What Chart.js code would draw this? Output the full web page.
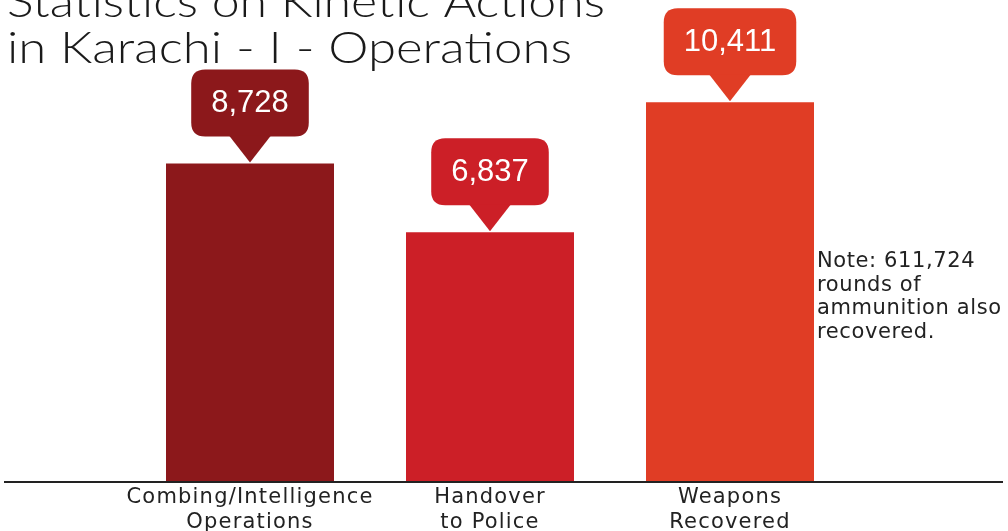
<!DOCTYPE html>
<html>
<head>
<meta charset="utf-8">
<script src="https://cdn.jsdelivr.net/npm/chart.js@4.4.0/dist/chart.umd.min.js"></script>
<style>
  html, body { margin: 0; padding: 0; background: #fff; }
  #wrap { width: 1008px; height: 531px; position: relative; }
</style>
</head>
<body>
<div id="wrap"><canvas id="chart"></canvas></div>
<script>
// Data
const categories = [
  ['Combing/Intelligence', 'Operations'],
  ['Handover', 'to Police'],
  ['Weapons', 'Recovered']
];
const values = [8728, 6837, 10411];
const barColors = ['#8c181b', '#cc1f27', '#e03d25'];
const titleLines = ['Statistics on Kinetic Actions', 'in Karachi - I - Operations'];
const noteLines = ['Note: 611,724', 'rounds of', 'ammunition also', 'recovered.'];

const titleFont = '300 43px Lato';
const noteFont = '21px "DejaVu Sans"';
const valueFont = '31px "Liberation Sans"';

// draw a line of text stretched/squeezed to a given width
function fitText(ctx, text, x, y, width) {
  const w = ctx.measureText(text).width;
  ctx.save();
  ctx.translate(x, y);
  ctx.scale(width / w, 1);
  ctx.fillText(text, 0, 0);
  ctx.restore();
}

// a little tracking on the axis labels
const spacingPlugin = {
  id: 'spacing',
  beforeDraw(chart) {
    chart.ctx.letterSpacing = '1.2px';
  }
};

// Title + note text, drawn straight on the canvas
const textPlugin = {
  id: 'extraText',
  afterDraw(chart) {
    const ctx = chart.ctx;
    ctx.save();
    ctx.letterSpacing = '0px';
    ctx.fillStyle = '#1a1a1a';
    ctx.textAlign = 'left';
    ctx.textBaseline = 'alphabetic';
    ctx.font = titleFont;
    fitText(ctx, titleLines[0], 7, 17, 598);
    fitText(ctx, titleLines[1], 7, 63, 565);

    ctx.font = noteFont;
    ctx.letterSpacing = '0.6px';
    ctx.fillStyle = '#222';
    noteLines.forEach((line, i) => {
      ctx.fillText(line, 817, 267 + i * 23.5);
    });
    ctx.restore();
  }
};

// Long baseline under the bars
const baselinePlugin = {
  id: 'baseline',
  afterDatasetsDraw(chart) {
    const ctx = chart.ctx;
    const y = chart.chartArea.bottom;
    ctx.save();
    ctx.strokeStyle = '#222';
    ctx.lineWidth = 2;
    ctx.beginPath();
    ctx.moveTo(4, y + 1);
    ctx.lineTo(1003, y + 1);
    ctx.stroke();
    ctx.restore();
  }
};

// Speech-bubble value labels above each bar
function roundRect(ctx, x, y, w, h, r) {
  ctx.moveTo(x + r, y);
  ctx.lineTo(x + w - r, y);
  ctx.quadraticCurveTo(x + w, y, x + w, y + r);
  ctx.lineTo(x + w, y + h - r);
  ctx.quadraticCurveTo(x + w, y + h, x + w - r, y + h);
  ctx.lineTo(x + r, y + h);
  ctx.quadraticCurveTo(x, y + h, x, y + h - r);
  ctx.lineTo(x, y + r);
  ctx.quadraticCurveTo(x, y, x + r, y);
}

const bubblePlugin = {
  id: 'bubbles',
  afterDatasetsDraw(chart) {
    const ctx = chart.ctx;
    const meta = chart.getDatasetMeta(0);
    ctx.save();
    ctx.letterSpacing = '0px';
    ctx.font = valueFont;
    meta.data.forEach((bar, i) => {
      const label = values[i].toLocaleString('en-US');
      const tw = ctx.measureText(label).width;
      const w = tw + 40;
      const h = 67;
      const tipY = bar.y - 1;
      const bottom = tipY - 26;
      const top = bottom - h;
      const left = bar.x - w / 2;
      ctx.fillStyle = barColors[i];
      ctx.beginPath();
      roundRect(ctx, left, top, w, h, 14);
      ctx.fill();
      ctx.beginPath();
      ctx.moveTo(bar.x - 21, bottom - 1);
      ctx.lineTo(bar.x + 21, bottom - 1);
      ctx.lineTo(bar.x, tipY);
      ctx.closePath();
      ctx.fill();
      ctx.fillStyle = '#fff';
      ctx.textAlign = 'center';
      ctx.textBaseline = 'middle';
      ctx.fillText(label, bar.x, top + h / 2 + 1);
    });
    ctx.restore();
  }
};

function drawChart() {
  new Chart(document.getElementById('chart'), {
    type: 'bar',
    data: {
      labels: categories,
      datasets: [{
        data: values,
        backgroundColor: barColors,
        borderWidth: 0,
        categoryPercentage: 1,
        barPercentage: 0.7
      }]
    },
    options: {
      responsive: true,
      maintainAspectRatio: false,
      animation: false,
      layout: { padding: { left: 130, right: 158, top: 8, bottom: 0 } },
      plugins: {
        legend: { display: false },
        tooltip: { enabled: false },
        title: { display: false }
      },
      scales: {
        x: {
          grid: { display: false, drawTicks: false },
          border: { display: false },
          ticks: {
            color: '#222',
            padding: 4,
            maxRotation: 0,
            autoSkip: false,
            font: { family: '"DejaVu Sans", sans-serif', size: 21 },
            lineHeight: 1.2
          },
          afterFit(scale) { scale.height = 50; }
        },
        y: {
          display: false,
          min: 0,
          max: 13000
        }
      }
    },
    plugins: [spacingPlugin, baselinePlugin, bubblePlugin, textPlugin]
  });
}

// make sure the fonts are ready before the canvas text is drawn
Promise.all([titleFont, noteFont, valueFont].map(f => document.fonts.load(f)))
  .then(drawChart, drawChart);
</script>
</body>
</html>
